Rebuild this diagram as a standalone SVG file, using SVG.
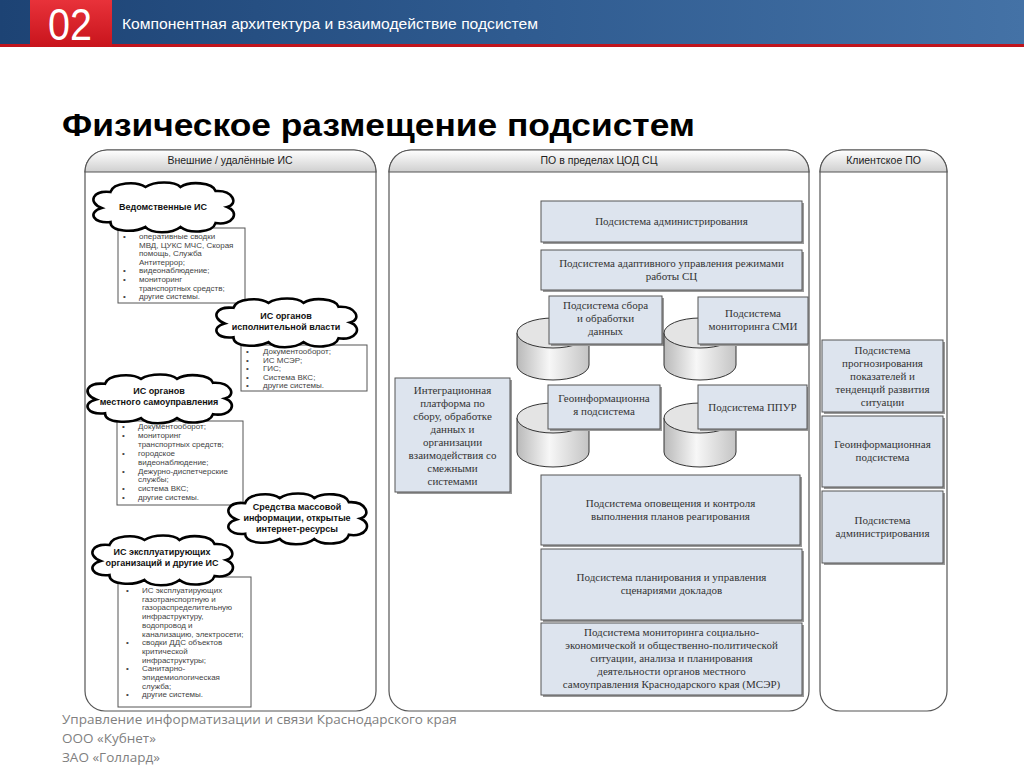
<svg xmlns="http://www.w3.org/2000/svg" xmlns:xlink="http://www.w3.org/1999/xlink" width="1024" height="768" viewBox="0 0 1024 768">
<defs>
<linearGradient id="band" x1="0" y1="0" x2="1" y2="0">
<stop offset="0" stop-color="#1d4374"/><stop offset="0.5" stop-color="#2f5b90"/><stop offset="1" stop-color="#4472a6"/>
</linearGradient>
<linearGradient id="red" x1="0" y1="0" x2="0" y2="1">
<stop offset="0" stop-color="#e8323a"/><stop offset="1" stop-color="#c8141c"/>
</linearGradient>
<linearGradient id="hdr" x1="0" y1="0" x2="0" y2="1">
<stop offset="0" stop-color="#ffffff"/><stop offset="1" stop-color="#cfcfcf"/>
</linearGradient>
<linearGradient id="cyl" x1="0" y1="0" x2="1" y2="0">
<stop offset="0" stop-color="#b9b9b9"/><stop offset="0.45" stop-color="#f7f7f7"/><stop offset="1" stop-color="#c4c4c4"/>
</linearGradient>
<path id="cloud" vector-effect="non-scaling-stroke" d="M8,26 C-2,20 2,8 14,10 C16,0 32,-1 38,5 C44,-1 58,-1 62,5 C68,-1 84,0 86,9 C98,8 102,22 94,25 C103,30 98,44 86,41 C84,51 68,52 62,45 C56,52 42,52 38,45 C30,51 14,50 14,40 C2,42 -2,30 8,26 Z"/>
<style>
.panel{fill:#fff;stroke:#555;stroke-width:1.2}
.ph{fill:url(#hdr);stroke:#555;stroke-width:1.2}
.pt{font-family:"Liberation Sans",Arial,sans-serif;font-size:10.5px;fill:#222;text-anchor:middle}
.cloud{fill:#fff;stroke:#000;stroke-width:2.6}
.ct{font-family:"Liberation Sans",Arial,sans-serif;font-size:9px;font-weight:bold;fill:#111;text-anchor:middle}
.lbox{fill:#fff;stroke:#555;stroke-width:1}
.lt{font-family:"Liberation Sans",Arial,sans-serif;font-size:8px;fill:#444}
.box{fill:#dde4ee;stroke:#555;stroke-width:1}
.sh{fill:#999}
.bt{font-family:"Liberation Serif","Times New Roman",serif;font-size:11px;fill:#333;text-anchor:middle}
.cs{fill:url(#cyl);stroke:#333;stroke-width:1}
.ce{fill:#e4e4e4;stroke:#333;stroke-width:1}
.ft{font-family:"Open Sans","Liberation Sans",sans-serif;font-size:13.5px;fill:#7f7f7f}
</style>
</defs>

<!-- header band -->
<g id="header">
<rect x="0" y="0" width="1024" height="45" fill="url(#band)"/>
<rect x="0" y="44" width="1024" height="3" fill="#c0141c"/>
<rect x="30" y="0" width="82" height="47" fill="url(#red)"/>
<text x="48" y="40" font-family="Liberation Sans,Arial,sans-serif" font-size="44" fill="#fff" textLength="44" lengthAdjust="spacingAndGlyphs">02</text>
<text x="122" y="29" font-family="Liberation Sans,Arial,sans-serif" font-size="15" fill="#fff" textLength="416" lengthAdjust="spacingAndGlyphs">Компонентная архитектура и взаимодействие подсистем</text>
</g>

<g id="title">
<text x="62" y="136" font-family="Liberation Sans,Arial,sans-serif" font-size="32" font-weight="bold" fill="#000" textLength="633" lengthAdjust="spacingAndGlyphs">Физическое размещение подсистем</text>
</g>

<!-- panels -->
<g id="panel-external">
<path class="panel" d="M85,172 A22,22 0 0 1 107,150 L354,150 A22,22 0 0 1 376,172 L376,691 A20,20 0 0 1 356,711 L105,711 A20,20 0 0 1 85,691 Z"/>
<path class="ph" d="M85,172 A22,22 0 0 1 107,150 L354,150 A22,22 0 0 1 376,172 Z"/>
<text class="pt" x="230" y="164">Внешние / удалённые ИС</text>
</g>
<g id="panel-cod">
<path class="panel" d="M389,172 A22,22 0 0 1 411,150 L787,150 A22,22 0 0 1 809,172 L809,691 A20,20 0 0 1 789,711 L409,711 A20,20 0 0 1 389,691 Z"/>
<path class="ph" d="M389,172 A22,22 0 0 1 411,150 L787,150 A22,22 0 0 1 809,172 Z"/>
<text class="pt" x="599" y="164">ПО в пределах ЦОД СЦ</text>
</g>
<g id="panel-client">
<path class="panel" d="M820,172 A22,22 0 0 1 842,150 L925,150 A22,22 0 0 1 947,172 L947,691 A20,20 0 0 1 927,711 L840,711 A20,20 0 0 1 820,691 Z"/>
<path class="ph" d="M820,172 A22,22 0 0 1 842,150 L925,150 A22,22 0 0 1 947,172 Z"/>
<text class="pt" x="883.5" y="164">Клиентское ПО</text>
</g>

<!-- external IS -->
<g id="list-vedom">
<rect class="lbox" x="118" y="228" width="127" height="75"/>
<text class="lt"><tspan x="123" y="239">•</tspan><tspan x="139" y="239">оперативные сводки</tspan>
<tspan x="139" y="247.6">МВД, ЦУКС МЧС, Скорая</tspan>
<tspan x="139" y="256.2">помощь, Служба</tspan>
<tspan x="139" y="264.8">Антитеррор;</tspan>
<tspan x="123" y="273.4">•</tspan><tspan x="139" y="273.4">видеонаблюдение;</tspan>
<tspan x="123" y="282">•</tspan><tspan x="139" y="282">мониторинг</tspan>
<tspan x="139" y="290.6">транспортных средств;</tspan>
<tspan x="123" y="299.2">•</tspan><tspan x="139" y="299.2">другие системы.</tspan></text>
</g>
<g id="cloud-vedom">
<use href="#cloud" class="cloud" transform="translate(90,182) scale(1.46,1.0)"/>
<text class="ct" x="163" y="210">Ведомственные ИС</text>
</g>

<g id="list-isp">
<rect class="lbox" x="241" y="345" width="126" height="46"/>
<text class="lt"><tspan x="246" y="354">•</tspan><tspan x="263" y="354">Документооборот;</tspan>
<tspan x="246" y="362.5">•</tspan><tspan x="263" y="362.5">ИС МСЭР;</tspan>
<tspan x="246" y="371">•</tspan><tspan x="263" y="371">ГИС;</tspan>
<tspan x="246" y="379.5">•</tspan><tspan x="263" y="379.5">Система ВКС;</tspan>
<tspan x="246" y="388">•</tspan><tspan x="263" y="388">другие системы.</tspan></text>
</g>
<g id="cloud-isp">
<use href="#cloud" class="cloud" transform="translate(213,298) scale(1.46,0.98)"/>
<text class="ct" x="286" y="319">ИС органов</text>
<text class="ct" x="286" y="330">исполнительной власти</text>
</g>

<g id="list-mestn">
<rect class="lbox" x="117" y="421" width="126" height="84"/>
<text class="lt"><tspan x="122" y="429">•</tspan><tspan x="138" y="429">Документооборот;</tspan>
<tspan x="122" y="437.9">•</tspan><tspan x="138" y="437.9">мониторинг</tspan>
<tspan x="138" y="446.8">транспортных средств;</tspan>
<tspan x="122" y="455.7">•</tspan><tspan x="138" y="455.7">городское</tspan>
<tspan x="138" y="464.6">видеонаблюдение;</tspan>
<tspan x="122" y="473.5">•</tspan><tspan x="138" y="473.5">Дежурно-диспетчерские</tspan>
<tspan x="138" y="482.4">службы;</tspan>
<tspan x="122" y="491.3">•</tspan><tspan x="138" y="491.3">система ВКС;</tspan>
<tspan x="122" y="500.2">•</tspan><tspan x="138" y="500.2">другие системы.</tspan></text>
</g>
<g id="cloud-mestn">
<use href="#cloud" class="cloud" transform="translate(84,374) scale(1.5,0.98)"/>
<text class="ct" x="159" y="394">ИС органов</text>
<text class="ct" x="159" y="405">местного самоуправления</text>
</g>

<g id="cloud-smi">
<use href="#cloud" class="cloud" transform="translate(225,493) scale(1.44,1.02)"/>
<text class="ct" x="297" y="510">Средства массовой</text>
<text class="ct" x="297" y="521">информации, открытые</text>
<text class="ct" x="297" y="532">интернет-ресурсы</text>
</g>

<g id="list-expl">
<rect class="lbox" x="118" y="577" width="133" height="130"/>
<text class="lt"><tspan x="126" y="593">•</tspan><tspan x="142" y="593">ИС эксплуатирующих</tspan>
<tspan x="142" y="601.7">газотранспортную и</tspan>
<tspan x="142" y="610.4">газораспределительную</tspan>
<tspan x="142" y="619.1">инфраструктуру,</tspan>
<tspan x="142" y="627.8">водопровод и</tspan>
<tspan x="142" y="636.5">канализацию, электросети;</tspan>
<tspan x="126" y="645.2">•</tspan><tspan x="142" y="645.2">сводки ДДС объектов</tspan>
<tspan x="142" y="653.9">критической</tspan>
<tspan x="142" y="662.6">инфраструктуры;</tspan>
<tspan x="126" y="671.3">•</tspan><tspan x="142" y="671.3">Санитарно-</tspan>
<tspan x="142" y="680">эпидемиологическая</tspan>
<tspan x="142" y="688.7">служба;</tspan>
<tspan x="126" y="697.4">•</tspan><tspan x="142" y="697.4">другие системы.</tspan></text>
</g>
<g id="cloud-expl">
<use href="#cloud" class="cloud" transform="translate(89,535) scale(1.46,1.0)"/>
<text class="ct" x="162" y="555">ИС эксплуатирующих</text>
<text class="ct" x="162" y="566">организаций и другие ИС</text>
</g>

<!-- COD subsystems -->
<g id="admin">
<rect class="sh" x="543" y="203" width="261" height="41"/>
<rect class="box" x="541" y="201" width="261" height="41"/>
<text class="bt" x="671.5" y="225">Подсистема администрирования</text>
</g>
<g id="adaptive">
<rect class="sh" x="543" y="252" width="261" height="40"/>
<rect class="box" x="541" y="250" width="261" height="40"/>
<text class="bt" x="671.5" y="267">Подсистема адаптивного управления режимами</text>
<text class="bt" x="671.5" y="280">работы СЦ</text>
</g>

<g id="sbor">
<path class="cs" d="M517,333 L517,365 A36,15 0 0 0 589,365 L589,333 Z"/>
<ellipse class="ce" cx="553" cy="333" rx="36" ry="15"/>
<rect class="sh" x="551" y="298" width="113" height="48"/>
<rect class="box" x="549" y="296" width="113" height="48"/>
<text class="bt" x="605.5" y="309">Подсистема сбора</text>
<text class="bt" x="605.5" y="322">и обработки</text>
<text class="bt" x="605.5" y="335">данных</text>
</g>
<g id="smi">
<path class="cs" d="M664,333 L664,365 A36,15 0 0 0 736,365 L736,333 Z"/>
<ellipse class="ce" cx="700" cy="333" rx="36" ry="15"/>
<rect class="sh" x="700" y="299" width="110" height="47"/>
<rect class="box" x="698" y="297" width="110" height="47"/>
<text class="bt" x="753" y="317">Подсистема</text>
<text class="bt" x="753" y="330">мониторинга СМИ</text>
</g>
<g id="geo">
<path class="cs" d="M517,418 L517,452 A36,15 0 0 0 589,452 L589,418 Z"/>
<ellipse class="ce" cx="553" cy="418" rx="36" ry="15"/>
<rect class="sh" x="550" y="387" width="112" height="44"/>
<rect class="box" x="548" y="385" width="112" height="44"/>
<text class="bt" x="604" y="402">Геоинформационна</text>
<text class="bt" x="604" y="415">я подсистема</text>
</g>
<g id="ppur">
<path class="cs" d="M664,418 L664,452 A36,15 0 0 0 736,452 L736,418 Z"/>
<ellipse class="ce" cx="700" cy="418" rx="36" ry="15"/>
<rect class="sh" x="700" y="387" width="109" height="44"/>
<rect class="box" x="698" y="385" width="109" height="44"/>
<text class="bt" x="752.5" y="411">Подсистема ППУР</text>
</g>

<g id="integration">
<rect class="sh" x="397" y="380" width="115" height="114"/>
<rect class="box" x="395" y="378" width="115" height="114"/>
<text class="bt" x="452.5" y="394">Интеграционная</text>
<text class="bt" x="452.5" y="407">платформа по</text>
<text class="bt" x="452.5" y="420">сбору, обработке</text>
<text class="bt" x="452.5" y="433">данных и</text>
<text class="bt" x="452.5" y="446">организации</text>
<text class="bt" x="452.5" y="459">взаимодействия со</text>
<text class="bt" x="452.5" y="472">смежными</text>
<text class="bt" x="452.5" y="485">системами</text>
</g>

<g id="notify">
<rect class="sh" x="543" y="477" width="259" height="70"/>
<rect class="box" x="541" y="475" width="259" height="70"/>
<text class="bt" x="670.5" y="507">Подсистема оповещения и контроля</text>
<text class="bt" x="670.5" y="520">выполнения планов реагирования</text>
</g>
<g id="planning">
<rect class="sh" x="543" y="551" width="261" height="71"/>
<rect class="box" x="541" y="549" width="261" height="71"/>
<text class="bt" x="671.5" y="581">Подсистема планирования и управления</text>
<text class="bt" x="671.5" y="594">сценариями докладов</text>
</g>
<g id="mser">
<rect class="sh" x="543" y="625" width="261" height="72"/>
<rect class="box" x="541" y="623" width="261" height="72"/>
<text class="bt" x="671.5" y="636">Подсистема мониторинга социально-</text>
<text class="bt" x="671.5" y="649">экономической и общественно-политической</text>
<text class="bt" x="671.5" y="662">ситуации, анализа и планирования</text>
<text class="bt" x="671.5" y="675">деятельности органов местного</text>
<text class="bt" x="671.5" y="688">самоуправления Краснодарского края (МСЭР)</text>
</g>

<!-- client -->
<g id="client-forecast">
<rect class="sh" x="824" y="342" width="121" height="72"/>
<rect class="box" x="822" y="340" width="121" height="72"/>
<text class="bt" x="882.5" y="354">Подсистема</text>
<text class="bt" x="882.5" y="367">прогнозирования</text>
<text class="bt" x="882.5" y="380">показателей и</text>
<text class="bt" x="882.5" y="393">тенденций развития</text>
<text class="bt" x="882.5" y="406">ситуации</text>
</g>
<g id="client-geo">
<rect class="sh" x="824" y="418" width="121" height="71"/>
<rect class="box" x="822" y="416" width="121" height="71"/>
<text class="bt" x="882.5" y="448">Геоинформационная</text>
<text class="bt" x="882.5" y="461">подсистема</text>
</g>
<g id="client-admin">
<rect class="sh" x="824" y="493" width="121" height="72"/>
<rect class="box" x="822" y="491" width="121" height="72"/>
<text class="bt" x="882.5" y="524">Подсистема</text>
<text class="bt" x="882.5" y="537">администрирования</text>
</g>

<g id="connectors"></g>

<g id="footer">
<text class="ft" x="62" y="724">Управление информатизации и связи Краснодарского края</text>
<text class="ft" x="62" y="743">ООО «Кубнет»</text>
<text class="ft" x="62" y="762">ЗАО «Голлард»</text>
</g>
</svg>
